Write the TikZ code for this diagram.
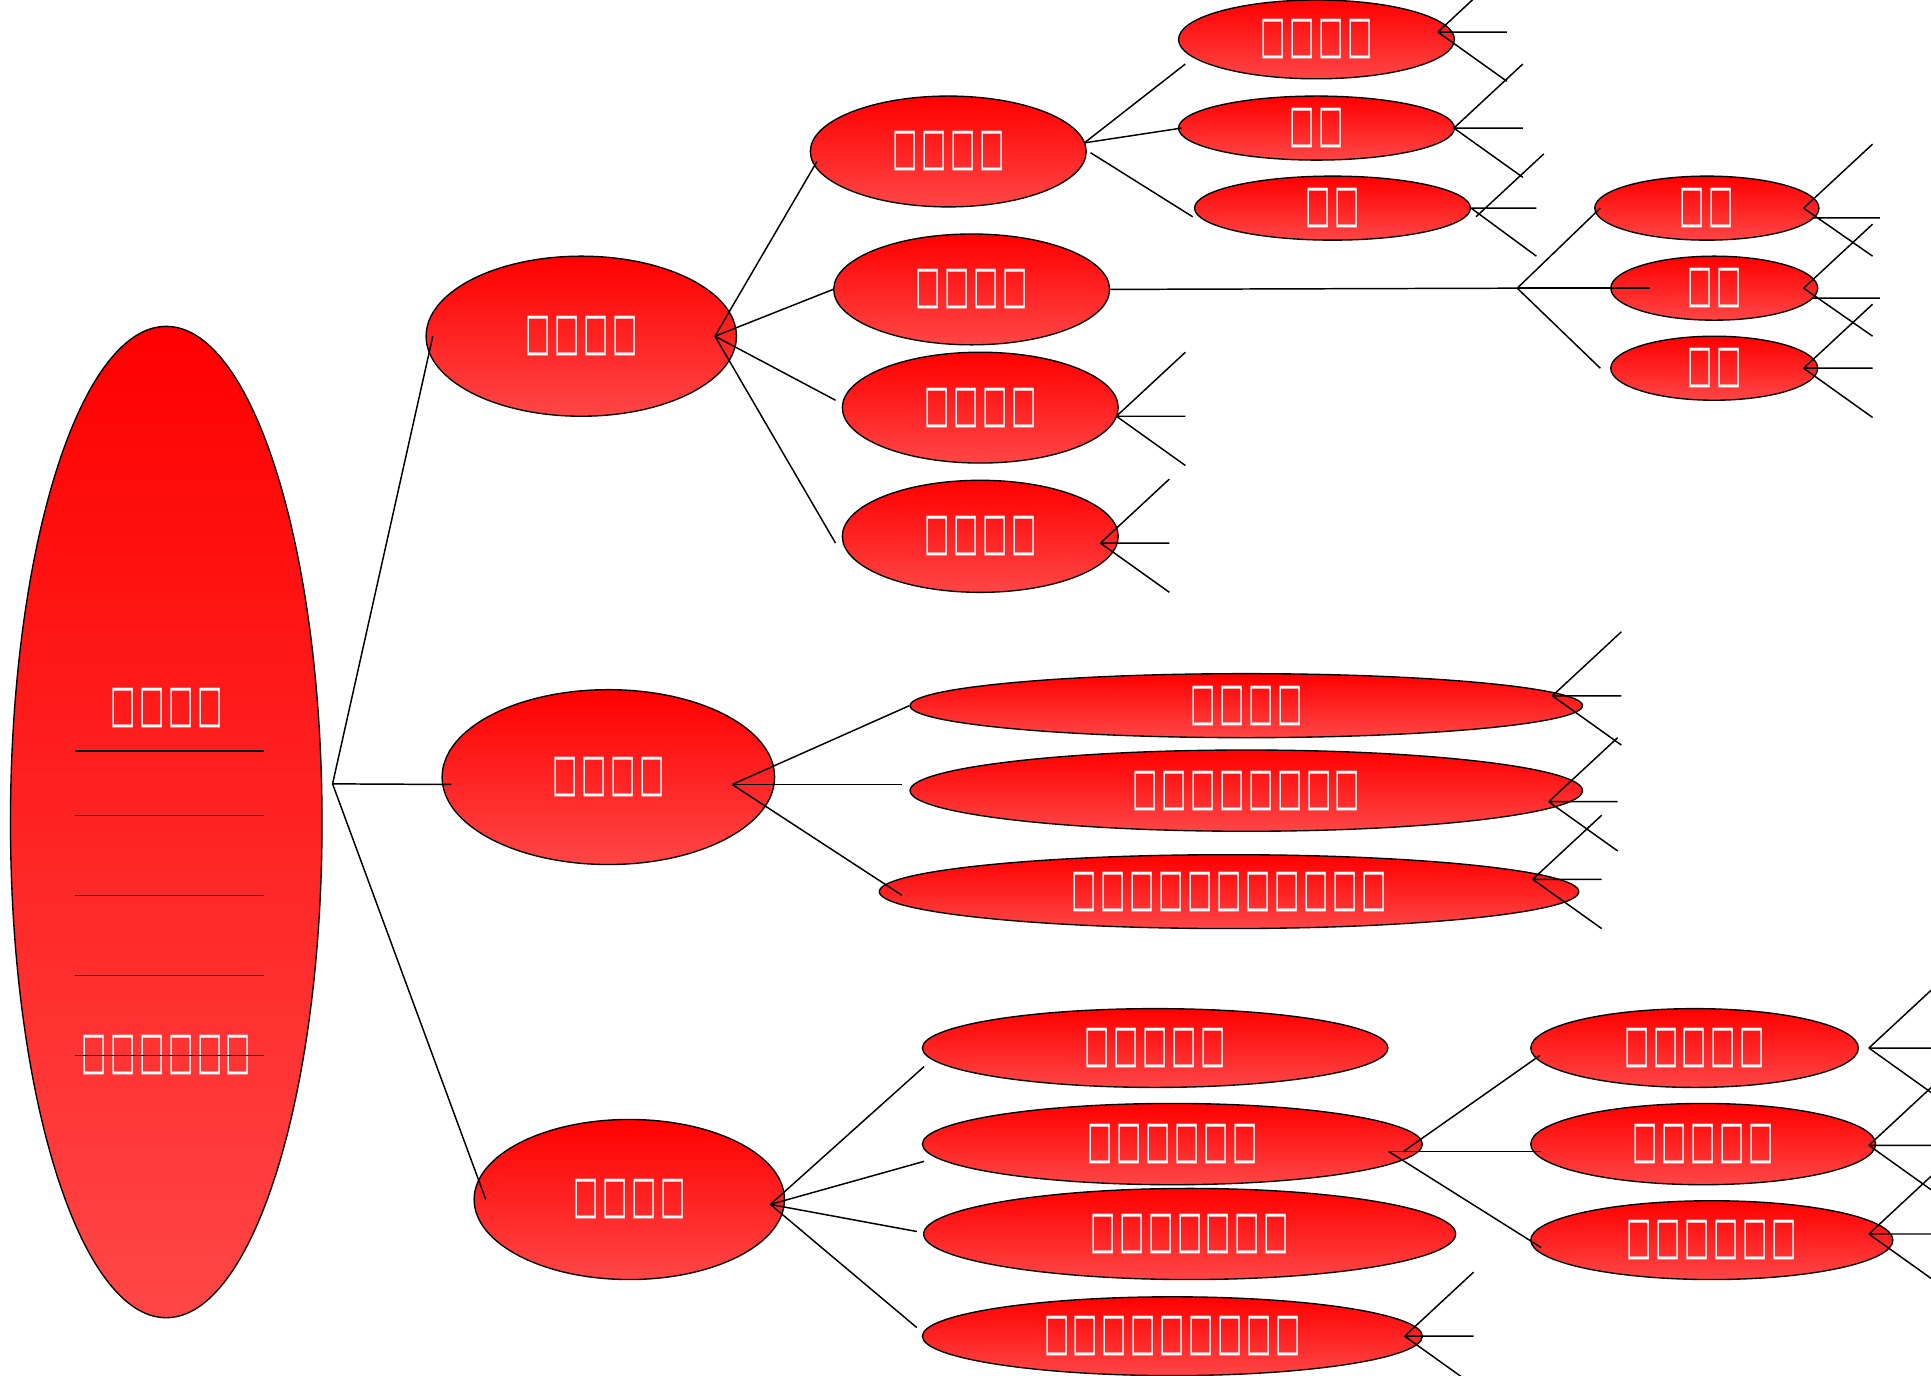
\documentclass[tikz,border=0pt]{standalone}
\usepackage{fontspec}
\usepackage{graphicx}
\newfontfamily\dv{DejaVu Sans}
\usetikzlibrary{shapes.geometric,calc}
\definecolor{topred}{RGB}{255,0,0}
\definecolor{botred}{RGB}{255,70,70}
\newcommand\T{\makebox[23.5pt]{\resizebox{20.5pt}{27pt}{\dv\fontsize{22}{22}\selectfont □}}}
\begin{document}
\begin{tikzpicture}[x=1pt,y=-1pt,
  ell/.style={ellipse, draw=black, line width=1.1pt, top color=topred, bottom color=botred, inner sep=0pt, text=white},
  sz/.style 2 args={minimum width=#1pt, minimum height=#2pt},
  conn/.style={draw=black, line width=1.2pt},
  txt/.style={inner sep=0pt, text=white},
  pics/fork/.style={code={\draw[conn] (0,0)--(56,-52) (0,0)--(56,0) (0,0)--(56,40);}},
  pics/forkb/.style={code={\draw[conn] (0,0)--(56,-52) (0,0)--(56,39) (7,8)--(62,8);}},
  pics/forkc/.style={code={\draw[conn] (4,7)--(59,-44) (0,0)--(53,0) (0,0)--(53,39);}},
]
\useasboundingbox (0,0) rectangle (1568,1117);
\clip (0,0) rectangle (1568,1117);

% root
\node[ell, sz={253}{805}] (R) at (135,667.5) {};
\node[txt] (Rt1) at (135,575) {\T\T\T\T};
\node[txt] (Rt2) at (135,857) {\T\T\T\T\T\T};
\foreach \yy in {610,662,727,792,857} \draw[conn] (61,\yy) -- (214,\yy);

% level 1
\node[ell, sz={252}{130}] (A) at (472,273) {\T\T\T\T};
\node[ell, sz={270}{142}] (B) at (494,631) {\T\T\T\T};
\node[ell, sz={252}{130}] (C) at (511,974) {\T\T\T\T};

% branch A
\node[ell, sz={224}{90}] (A1) at (770,123) {\T\T\T\T};
\node[ell, sz={224}{90}] (A2) at (789,235) {\T\T\T\T};
\node[ell, sz={224}{90}] (A3) at (796,331) {\T\T\T\T};
\node[ell, sz={224}{91}] (A4) at (796,435.5) {\T\T\T\T};
\node[ell, sz={224}{64}] (A1a) at (1069,32) {\T\T\T\T};
\node[ell, sz={224}{52}] (A1b) at (1069,104) {\T\T};
\node[ell, sz={224}{52}] (A1c) at (1082,169) {\T\T};
\node[ell, sz={182}{52}] (A2a) at (1386,169) {\T\T};
\node[ell, sz={168}{52}] (A2b) at (1392,234) {\T\T};
\node[ell, sz={168}{52}] (A2c) at (1392,299) {\T\T};

% branch B
\node[ell, sz={546}{52}] (B1) at (1012,573) {\T\T\T\T};
\node[ell, sz={546}{66}] (B2) at (1012,642) {\T\T\T\T\T\T\T\T};
\node[ell, sz={568}{60}] (B3) at (998,724) {\T\T\T\T\T\T\T\T\T\T\T};

% branch C
\node[ell, sz={378}{64}] (C1) at (938,851) {\T\T\T\T\T};
\node[ell, sz={406}{66}] (C2) at (952,929) {\T\T\T\T\T\T};
\node[ell, sz={432}{74}] (C3) at (966,1002) {\T\T\T\T\T\T\T};
\node[ell, sz={406}{64}] (C4) at (952,1085) {\T\T\T\T\T\T\T\T\T};
\node[ell, sz={266}{64}] (C2a) at (1376,851) {\T\T\T\T\T};
\node[ell, sz={280}{66}] (C2b) at (1383,929) {\T\T\T\T\T};
\node[ell, sz={294}{64}] (C2c) at (1390,1007) {\T\T\T\T\T\T};

% hubs
\coordinate (hR) at ($(R.east)+(8,-31)$);
\coordinate (hA) at ($(A.east)+(-18,0)$);
\coordinate (hB) at ($(B.east)+(-35,6)$);
\coordinate (hC) at ($(C.east)+(-12,4)$);
\coordinate (hA1) at ($(A1.east)+(-2,-7)$);
\coordinate (hA1b) at ($(A1.east)+(3,1)$);
\coordinate (hA2) at (1232,234);
\coordinate (hC2) at ($(C2.east)+(-28,6)$);
\coordinate (hC2b) at ($(C2.east)+(-16,6)$);

% connectors
\draw[conn] (hR) -- ($(A.west)+(6,0)$);
\draw[conn] (hR) -- ($(B.west)+(8,6)$);
\draw[conn] (hR) -- ($(C.west)+(10,0)$);

\draw[conn] (hA) -- ($(A1.west)+(6,8)$);
\draw[conn] (hA) -- (A2.west);
\draw[conn] (hA) -- ($(A3.west)+(-5,-6)$);
\draw[conn] (hA) -- ($(A4.west)+(-5,5.5)$);

\draw[conn] (hA1) -- ($(A1a.west)+(6,20)$);
\draw[conn] (hA1) -- ($(A1b.west)+(3,0)$);
\draw[conn] (hA1b) -- ($(A1c.west)+(-1,7)$);

\draw[conn] (A2.east) -- (hA2);
\draw[conn] (hA2) -- ($(A2a.west)+(5,0)$);
\draw[conn] (hA2) -- ($(A2b.west)+(32,0)$);
\draw[conn] (hA2) -- ($(A2c.west)+(-8,0)$);

\draw[conn] (hB) -- (B1.west);
\draw[conn] (hB) -- ($(B2.west)+(-6,-5)$);
\draw[conn] (hB) -- ($(B3.west)+(19,3)$);

\draw[conn] (hC) -- ($(C1.west)+(2,15)$);
\draw[conn] (hC) -- ($(C2.west)+(2,14)$);
\draw[conn] (hC) -- ($(C3.west)+(-5,-2)$);
\draw[conn] (hC) -- ($(C4.west)+(-4,-7)$);

\draw[conn] (hC2b) -- ($(C2a.west)+(8,6)$);
\draw[conn] (hC2) -- ($(C2b.west)+(9,6)$);
\draw[conn] (hC2) -- ($(C2c.west)+(9,6)$);

% leaf forks
\pic at ($(A1a.east)+(-14,-6)$) {fork};
\pic at ($(A1b.east)+(-1,0)$) {fork};
\pic at (A1c.east) {forkc};
\pic at ($(A2a.east)+(-13,0)$) {forkb};
\pic at ($(A2b.east)+(-12,0)$) {forkb};
\pic at ($(A2c.east)+(-12,0)$) {fork};
\pic at ($(A3.east)+(-2,7)$) {fork};
\pic at ($(A4.east)+(-15,5.5)$) {fork};
\pic at ($(B1.east)+(-25,-8)$) {fork};
\pic at ($(B2.east)+(-28,9)$) {fork};
\pic at ($(B3.east)+(-38,-10)$) {fork};
\pic at ($(C2a.east)+(8,0)$) {fork};
\pic at ($(C2b.east)+(-6,1)$) {fork};
\pic at ($(C2c.east)+(-20,-5)$) {fork};
\pic at ($(C4.east)+(-15,0)$) {fork};
\end{tikzpicture}
\end{document}
